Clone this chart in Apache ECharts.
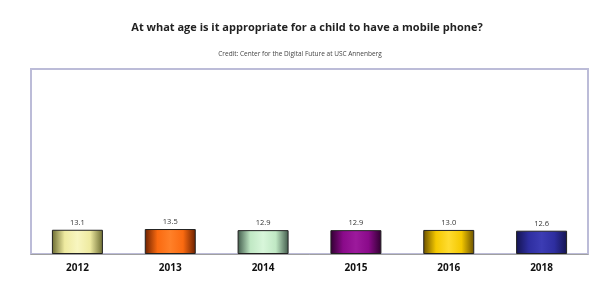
<!DOCTYPE html>
<html><head><meta charset="utf-8">
<script src="https://cdn.jsdelivr.net/npm/echarts@6/dist/echarts.min.js"></script>
<style>html,body{margin:0;padding:0;background:#fff}#c{width:591px;height:300px}</style>
</head><body><div id="c"></div>
<script>
const categories = ['2012', '2013', '2014', '2015', '2016', '2018'];
const values = [13.1, 13.5, 12.9, 12.9, 13.0, 12.6];
const labels = ['13.1', '13.5', '12.9', '12.9', '13.0', '12.6'];
const barColors = [
  ['#6a6a30', '#eeeaa0', '#f8f6c0'],
  ['#6a2000', '#fa6a10', '#ff8028'],
  ['#405a4a', '#c0e8c4', '#d8f6da'],
  ['#300030', '#8a0a8a', '#9c1a9c'],
  ['#6a5000', '#f4c800', '#ffdc30'],
  ['#141450', '#2e2ea0', '#3c3cb4']
];
function grad(c) {
  return new echarts.graphic.LinearGradient(0, 0, 1, 0, [
    {offset: 0, color: c[0]},
    {offset: 0.25, color: c[1]},
    {offset: 0.5, color: c[2]},
    {offset: 0.75, color: c[1]},
    {offset: 1, color: c[0]}
  ]);
}
const chart = echarts.init(document.getElementById('c'), null, {renderer: 'canvas'});
chart.setOption({
  animation: false,
  title: [
    {text: 'At what age is it appropriate for a child to have a mobile phone?', left: 302, top: 17, textAlign: 'center',
     textStyle: {fontFamily: 'Open Sans', fontWeight: 'bold', fontSize: 11, color: '#222'}},
    {text: 'Credit: Center for the Digital Future at USC Annenberg', left: 295, top: 46, textAlign: 'center',
     textStyle: {fontFamily: 'Open Sans', fontWeight: 'normal', fontSize: 6.5, color: '#444'}}
  ],
  grid: {left: 31, top: 69, width: 557, height: 185, show: true, borderColor: '#bcbcd8', borderWidth: 2, backgroundColor: '#fff'},
  xAxis: {
    type: 'category', data: categories,
    axisLine: {lineStyle: {color: '#a0a0a0', width: 1}},
    axisTick: {show: false},
    axisLabel: {fontFamily: 'Open Sans', fontWeight: 'bold', fontSize: 10, color: '#111', margin: 9}
  },
  yAxis: {type: 'value', min: 0, max: 100, show: false, splitLine: {show: false}},
  series: [{
    type: 'bar', barWidth: 51,
    data: values.map((v, i) => ({value: v, itemStyle: {color: grad(barColors[i]), borderColor: '#222', borderWidth: 1}})),
    label: {show: true, position: 'top', distance: 3, fontFamily: 'Open Sans', fontSize: 7.5, color: '#333',
      formatter: p => labels[p.dataIndex]}
  }]
});
</script></body></html>
